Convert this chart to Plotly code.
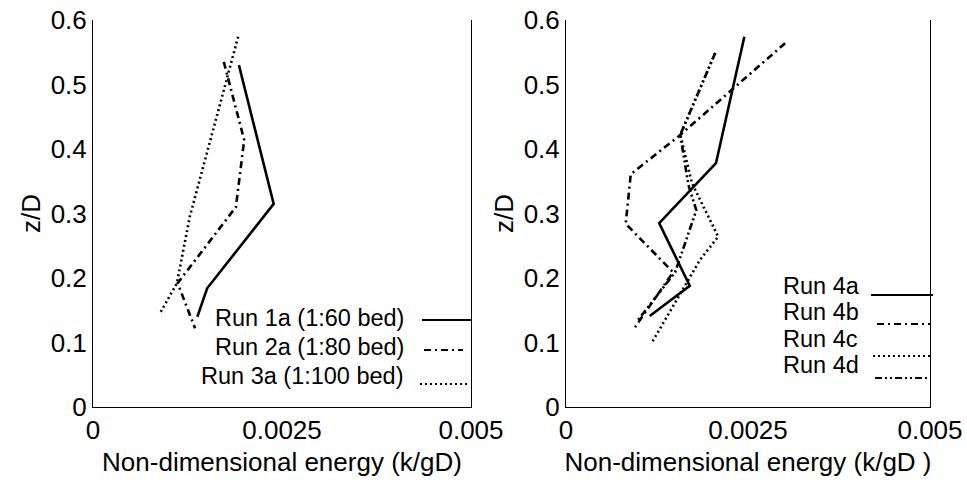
import plotly.graph_objects as go

# ---- data ----
run1a_x = [0.00193, 0.00239, 0.00151, 0.00138]
run1a_z = [0.530, 0.315, 0.184, 0.140]
run2a_x = [0.00173, 0.00200, 0.00189, 0.00112, 0.00135]
run2a_z = [0.535, 0.414, 0.310, 0.192, 0.122]
run3a_x = [0.00192, 0.00128, 0.00111, 0.00089]
run3a_z = [0.574, 0.295, 0.192, 0.146]

run4a_x = [0.00245, 0.00206, 0.00128, 0.00170, 0.00115]
run4a_z = [0.574, 0.378, 0.285, 0.188, 0.141]
run4b_x = [0.00301, 0.00154, 0.00089, 0.00082, 0.00147, 0.00092]
run4b_z = [0.564, 0.419, 0.361, 0.284, 0.209, 0.119]
run4c_x = [0.00205, 0.00157, 0.00173, 0.00209, 0.00184, 0.00118]
run4c_z = [0.549, 0.422, 0.347, 0.264, 0.228, 0.100]
run4d_x = [0.00205, 0.00157, 0.00168, 0.00179, 0.00150, 0.00099]
run4d_z = [0.549, 0.422, 0.345, 0.305, 0.209, 0.135]

x_ticks = [0, 0.0025, 0.005]
x_tick_labels = ["0", "0.0025", "0.005"]
y_ticks = [0, 0.1, 0.2, 0.3, 0.4, 0.5, 0.6]
y_tick_labels = ["0", "0.1", "0.2", "0.3", "0.4", "0.5", "0.6"]

left_labels = ["Run 1a (1:60 bed)", "Run 2a (1:80 bed)", "Run 3a (1:100 bed)"]
right_labels = ["Run 4a", "Run 4b", "Run 4c", "Run 4d"]

SOLID = "solid"
DASHDOT = "7px,4px,2px,4px"
DOT = "2px,3px"
DASHDOTDOT = "7px,3px,2px,3px,2px,3px"

FONT = "Liberation Sans, Arial, sans-serif"

fig = go.Figure()

left_series = [(run1a_x, run1a_z, SOLID), (run2a_x, run2a_z, DASHDOT), (run3a_x, run3a_z, DOT)]
right_series = [(run4a_x, run4a_z, SOLID), (run4b_x, run4b_z, DASHDOT),
                (run4c_x, run4c_z, DOT), (run4d_x, run4d_z, DASHDOTDOT)]

for (xs, zs, d), name in zip(left_series, left_labels):
    fig.add_trace(go.Scatter(x=xs, y=zs, mode="lines", name=name, xaxis="x", yaxis="y",
                             line=dict(color="black", width=2.6, dash=d), showlegend=False))
for (xs, zs, d), name in zip(right_series, right_labels):
    fig.add_trace(go.Scatter(x=xs, y=zs, mode="lines", name=name, xaxis="x2", yaxis="y2",
                             line=dict(color="black", width=2.6, dash=d), showlegend=False))

axis_common = dict(showgrid=False, zeroline=False, showline=True, linecolor="black", linewidth=1,
                   ticks="", automargin=False,
                   tickfont=dict(family=FONT, size=26, color="black"))
xtitle = dict(font=dict(family=FONT, size=26, color="black"), standoff=8)
ytitle = dict(text="z/D", font=dict(family=FONT, size=26, color="black"), standoff=2)

fig.update_layout(
    width=967, height=480,
    margin=dict(l=0, r=0, t=0, b=0, autoexpand=False),
    paper_bgcolor="white", plot_bgcolor="white",
    showlegend=False,
    xaxis=dict(domain=[93/967, 471/967], range=[0, 0.005], tickvals=x_ticks, ticktext=x_tick_labels,
               anchor="y", title=dict(text="Non-dimensional energy (k/gD)", **xtitle), **axis_common),
    yaxis=dict(domain=[1-407/480, 1-20/480], range=[0, 0.6], tickvals=y_ticks, ticktext=y_tick_labels,
               anchor="x", mirror=True, title=ytitle, **axis_common),
    xaxis2=dict(domain=[566/967, 930/967], range=[0, 0.005], tickvals=x_ticks, ticktext=x_tick_labels,
                anchor="y2", title=dict(text="Non-dimensional energy (k/gD )", **xtitle), **axis_common),
    yaxis2=dict(domain=[1-407/480, 1-20/480], range=[0, 0.6], tickvals=y_ticks, ticktext=y_tick_labels,
                anchor="x2", mirror=True, title=ytitle, **axis_common),
)

# ---- hand-drawn style legends (pixel positions -> paper coords) ----
W, H = 967, 480
def px(x):
    return x / W
def py(y):
    return 1 - y / H

LEG_SIZE = 23.5
left_leg = [(318, 422, 472, 320, SOLID), (347, 424, 463, 350, DASHDOT), (376, 420, 470, 384, DOT)]
for (ty, x0, x1, ly, d), lab in zip(left_leg, left_labels):
    fig.add_annotation(x=px(406), y=py(ty), xref="paper", yref="paper", text=lab, showarrow=False,
                       xanchor="right", yanchor="middle",
                       font=dict(family=FONT, size=LEG_SIZE, color="black"))
    fig.add_shape(type="line", xref="paper", yref="paper", x0=px(x0), x1=px(x1), y0=py(ly), y1=py(ly),
                  line=dict(color="black", width=2, dash=d))

right_leg = [(286, 871, 933, 295, SOLID), (312, 877, 930, 324, DASHDOT),
             (339, 873, 930, 356, DOT), (365, 875, 930, 378, DASHDOTDOT)]
for (ty, x0, x1, ly, d), lab in zip(right_leg, right_labels):
    fig.add_annotation(x=px(781), y=py(ty), xref="paper", yref="paper", text=lab, showarrow=False,
                       xanchor="left", yanchor="middle",
                       font=dict(family=FONT, size=LEG_SIZE, color="black"))
    fig.add_shape(type="line", xref="paper", yref="paper", x0=px(x0), x1=px(x1), y0=py(ly), y1=py(ly),
                  line=dict(color="black", width=2, dash=d))

fig.write_html("out.html")
